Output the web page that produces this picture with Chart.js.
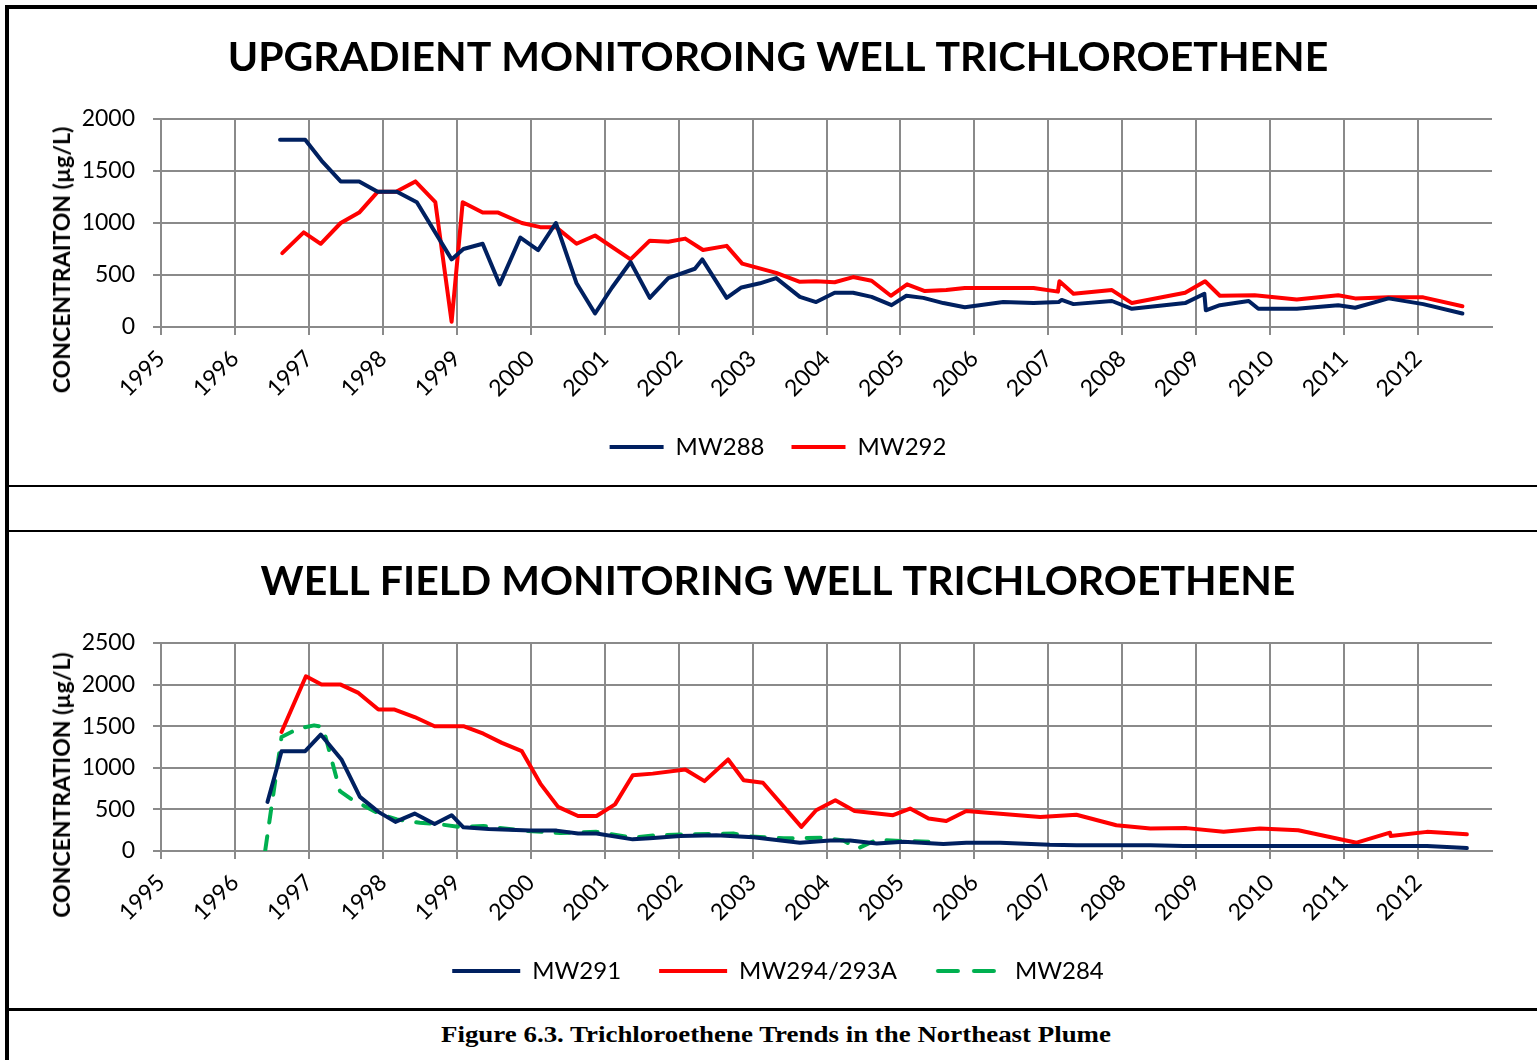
<!DOCTYPE html>
<html>
<head>
<meta charset="utf-8">
<script src="https://cdn.jsdelivr.net/npm/chart.js@4.4.0/dist/chart.umd.min.js"></script>
<style>
  body { margin: 0; background: #fff; width: 1537px; height: 1060px; position: relative; overflow: hidden; font-family: Lato, sans-serif; }
  .vline { position: absolute; left: 5px; top: 5px; width: 4px; height: 1055px; background: #000; }
  .hline { position: absolute; left: 5px; right: 0; background: #000; }
  canvas { position: absolute; left: 12px; }
  .ytitle { position: absolute; font: bold 23px Lato, sans-serif; white-space: nowrap; transform: translate(-50%, -50%) rotate(-90deg); }
  .caption { position: absolute; left: 776px; top: 1022px; white-space: nowrap; font: bold 23px "Liberation Serif", serif; transform: translateX(-50%) scaleX(1.17); }
</style>
</head>
<body>
<div class="vline"></div>
<div class="hline" style="top:5px;height:4px"></div>
<div class="hline" style="top:485px;height:2px"></div>
<div class="hline" style="top:530px;height:2px"></div>
<div class="hline" style="top:1008px;height:3px"></div>

<canvas id="upChart" width="1520" height="474" style="top:10px"></canvas>
<div class="ytitle" style="left:61px;top:260px">CONCENTRAITON (µg/L)</div>

<canvas id="wellChart" width="1520" height="474" style="top:534px"></canvas>
<div class="ytitle" style="left:61px;top:785px">CONCENTRATION (µg/L)</div>

<div class="caption">Figure 6.3. Trichloroethene Trends in the Northeast Plume</div>

<script>
// axe des années (1995 -> 2012 affichées)
const yearTicks = [1995, 1996, 1997, 1998, 1999, 2000, 2001, 2002, 2003, 2004, 2005, 2006, 2007, 2008, 2009, 2010, 2011, 2012];

// MW288 (haut)
const mw288Dates = [1996.61, 1996.95, 1997.17, 1997.43, 1997.68, 1997.93, 1998.19, 1998.46, 1998.93, 1999.09, 1999.35, 1999.58, 1999.86, 2000.10, 2000.34, 2000.62, 2000.87, 2001.10, 2001.35, 2001.61, 2001.86, 2002.22, 2002.32, 2002.65, 2002.85, 2003.10, 2003.32, 2003.64, 2003.86, 2004.11, 2004.36, 2004.61, 2004.88, 2005.08, 2005.31, 2005.58, 2005.87, 2006.39, 2006.80, 2007.14, 2007.18, 2007.34, 2007.86, 2008.13, 2008.85, 2009.11, 2009.13, 2009.32, 2009.71, 2009.84, 2010.36, 2010.92, 2011.15, 2011.60, 2012.07, 2012.60];
const mw288Values = [1800, 1800, 1600, 1400, 1400, 1300, 1300, 1200, 650, 750, 800, 410, 860, 740, 1000, 420, 130, 380, 625, 280, 470, 560, 650, 280, 380, 420, 470, 290, 240, 330, 330, 290, 210, 300, 280, 230, 190, 240, 230, 240, 260, 220, 250, 175, 230, 320, 160, 210, 250, 175, 175, 210, 185, 275, 220, 130];

// MW292 (haut)
const mw292Dates = [1996.64, 1996.93, 1997.16, 1997.43, 1997.68, 1997.93, 1998.18, 1998.44, 1998.71, 1998.93, 1999.08, 1999.35, 1999.56, 1999.88, 2000.13, 2000.34, 2000.62, 2000.87, 2001.35, 2001.61, 2001.86, 2002.09, 2002.33, 2002.65, 2002.86, 2003.32, 2003.64, 2003.86, 2004.11, 2004.36, 2004.61, 2004.87, 2005.09, 2005.33, 2005.62, 2005.87, 2006.80, 2007.13, 2007.15, 2007.34, 2007.86, 2008.13, 2008.85, 2009.12, 2009.32, 2009.79, 2010.36, 2010.92, 2011.15, 2011.60, 2012.07, 2012.60];
const mw292Values = [710, 910, 800, 1000, 1100, 1300, 1300, 1400, 1200, 50, 1200, 1100, 1100, 1000, 960, 960, 800, 880, 650, 830, 820, 850, 740, 780, 610, 520, 435, 440, 430, 480, 445, 300, 410, 345, 355, 375, 375, 340, 440, 320, 355, 230, 330, 440, 300, 305, 265, 305, 275, 285, 285, 200];

// MW291 (bas)
const mw291Dates = [1996.44, 1996.63, 1996.95, 1997.16, 1997.44, 1997.69, 1997.94, 1998.17, 1998.43, 1998.70, 1998.93, 1999.09, 1999.43, 1999.99, 2000.35, 2000.64, 2000.89, 2001.38, 2001.61, 2002.02, 2002.51, 2003.01, 2003.64, 2004.05, 2004.32, 2004.68, 2005.04, 2005.58, 2005.89, 2006.35, 2007.02, 2007.38, 2008.38, 2008.83, 2012.12, 2012.66];
const mw291Values = [590, 1200, 1200, 1400, 1100, 650, 470, 350, 450, 325, 430, 285, 265, 245, 245, 210, 210, 140, 152, 180, 190, 165, 100, 125, 125, 90, 110, 85, 100, 100, 75, 70, 70, 60, 60, 35];

// MW294/293A (bas)
const mw294Dates = [1996.63, 1996.96, 1997.17, 1997.43, 1997.67, 1997.94, 1998.16, 1998.43, 1998.70, 1999.09, 1999.36, 1999.61, 1999.88, 2000.13, 2000.37, 2000.64, 2000.89, 2001.14, 2001.38, 2001.65, 2002.09, 2002.35, 2002.67, 2002.88, 2003.14, 2003.66, 2003.86, 2004.12, 2004.38, 2004.90, 2005.13, 2005.38, 2005.62, 2005.89, 2006.89, 2007.38, 2007.92, 2008.38, 2008.87, 2009.37, 2009.86, 2010.38, 2011.17, 2011.62, 2011.63, 2012.12, 2012.66];
const mw294Values = [1430, 2100, 2000, 2000, 1900, 1700, 1700, 1610, 1500, 1500, 1410, 1300, 1200, 810, 530, 420, 420, 560, 910, 930, 980, 840, 1100, 850, 820, 290, 490, 610, 480, 430, 510, 390, 360, 480, 410, 435, 310, 270, 275, 230, 270, 250, 100, 220, 180, 230, 200];

// MW284 (bas, pointillés)
const mw284Dates = [1996.41, 1996.63, 1996.85, 1997.07, 1997.19, 1997.42, 1997.58, 1997.96, 1998.19, 1998.50, 1998.73, 1999.04, 1999.36, 1999.90, 2000.40, 2000.89, 2001.38, 2001.70, 2002.42, 2002.74, 2002.97, 2003.42, 2003.96, 2004.23, 2004.42, 2004.68, 2005.04, 2005.42];
const mw284Values = [10, 1370, 1470, 1510, 1490, 720, 620, 445, 380, 340, 325, 290, 300, 245, 215, 230, 160, 190, 205, 210, 175, 152, 160, 125, 30, 135, 120, 110];

const NAVY = '#002060';
const RED = '#ff0000';
const GREEN = '#00b050';
const GRID = '#8a8a8a';

Chart.defaults.font.family = 'Lato, sans-serif';
Chart.defaults.color = '#000';

// symbole de légende en pointillés (le legend ne gère pas le tiret avec pointStyle)
function dashedSymbol(color, width) {
    const c = document.createElement('canvas');
    c.width = width;
    c.height = 8;
    const g = c.getContext('2d');
    g.strokeStyle = color;
    g.lineWidth = 4;
    g.lineCap = 'round';
    g.setLineDash([20, 16]);
    g.beginPath();
    g.moveTo(3, 4);
    g.lineTo(width - 8, 4);
    g.stroke();
    return c;
}

function toPoints(dates, values) {
    return dates.map((d, i) => ({ x: d, y: values[i] }));
}

function serie(label, dates, values, color, dash) {
    return {
        label: label,
        data: toPoints(dates, values),
        borderColor: color,
        backgroundColor: color,
        borderWidth: 4,
        borderDash: dash || [],
        borderCapStyle: 'round',
        borderJoinStyle: 'round',
        pointRadius: 0,
        pointStyle: dash ? dashedSymbol(color, 68) : 'line',
        tension: 0
    };
}

function makeChart(id, title, datasets, yMax, legendGap, legendLine) {
    const legendCenter = 437;
    const xHeight = legendCenter - 12 - legendGap - 317;
    return new Chart(document.getElementById(id), {
        type: 'line',
        data: { datasets: datasets },
        options: {
            responsive: false,
            animation: false,
            devicePixelRatio: 1,
            layout: { padding: { left: 52, right: 40, top: 0, bottom: 474 - (legendCenter + 22) } },
            plugins: {
                title: {
                    display: true,
                    text: title,
                    color: '#000',
                    font: { size: 41, weight: 'bold' },
                    padding: { top: 23.4, bottom: 36.4 }
                },
                legend: {
                    position: 'bottom',
                    labels: {
                        usePointStyle: true,
                        pointStyleWidth: legendLine,
                        padding: legendGap,
                        font: { size: 24 },
                        color: '#000'
                    }
                },
                tooltip: { enabled: false }
            },
            scales: {
                x: {
                    type: 'linear',
                    min: 1995,
                    max: 2013,
                    afterFit: s => { s.height = xHeight; },
                    ticks: {
                        stepSize: 1,
                        maxTicksLimit: 40,
                        autoSkip: false,
                        minRotation: 45,
                        maxRotation: 45,
                        padding: 10,
                        font: { size: 23 },
                        callback: v => yearTicks.includes(v) ? String(v) : ''
                    },
                    grid: {
                        color: c => (c.tick && c.tick.value > 2012) ? 'rgba(0,0,0,0)' : GRID,
                        lineWidth: 2,
                        tickLength: 8,
                        drawTicks: true
                    },
                    border: { color: GRID, width: 2 }
                },
                y: {
                    min: 0,
                    max: yMax,
                    afterFit: s => { s.width = 97; },
                    ticks: { stepSize: 500, padding: 18, font: { size: 23 }, callback: v => String(v) },
                    grid: { color: GRID, lineWidth: 2, tickLength: 8 },
                    border: { color: GRID, width: 2 }
                }
            }
        }
    });
}

makeChart('upChart', 'UPGRADIENT MONITOROING WELL TRICHLOROETHENE', [
    serie('MW288', mw288Dates, mw288Values, NAVY),
    serie('MW292', mw292Dates, mw292Values, RED)
], 2000, 27, 54);

makeChart('wellChart', 'WELL FIELD MONITORING WELL TRICHLOROETHENE', [
    serie('MW291', mw291Dates, mw291Values, NAVY),
    serie('MW294/293A', mw294Dates, mw294Values, RED),
    serie('MW284', mw284Dates, mw284Values, GREEN, [14, 14])
], 2500, 38, 68);
</script>
</body>
</html>
